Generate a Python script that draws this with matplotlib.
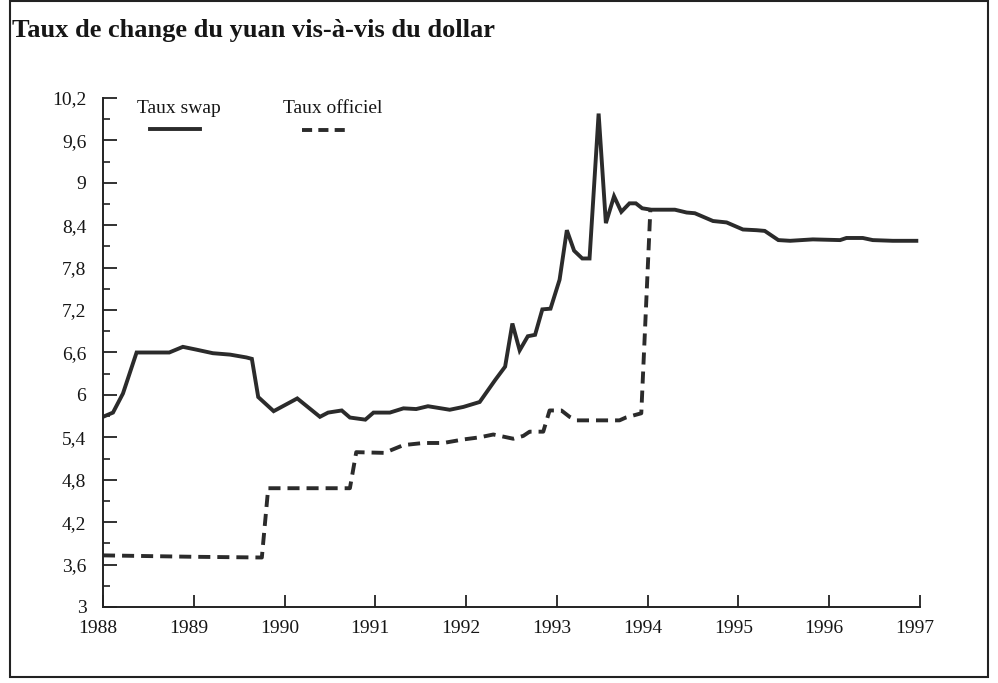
import matplotlib.pyplot as plt
from matplotlib.patches import Rectangle
from matplotlib.transforms import ScaledTranslation
import numpy as np

plt.rcParams['font.family'] = ['Liberation Serif', 'DejaVu Serif']

title = 'Taux de change du yuan vis-à-vis du dollar'

# swap rate (market)
swap_t = [1988.00, 1988.11, 1988.22, 1988.37, 1988.73, 1988.88, 1989.03, 1989.21,
          1989.40, 1989.58, 1989.64, 1989.71, 1989.88, 1990.14, 1990.39, 1990.48,
          1990.63, 1990.72, 1990.89, 1990.98, 1991.16, 1991.31, 1991.45, 1991.58,
          1991.82, 1991.97, 1992.15, 1992.32, 1992.43, 1992.51, 1992.59, 1992.68,
          1992.76, 1992.84, 1992.93, 1993.03, 1993.11, 1993.19, 1993.28, 1993.36,
          1993.46, 1993.54, 1993.63, 1993.71, 1993.80, 1993.87, 1993.94, 1994.04,
          1994.30, 1994.43, 1994.52, 1994.72, 1994.87, 1995.05, 1995.20, 1995.29,
          1995.44, 1995.57, 1995.82, 1996.12, 1996.19, 1996.37, 1996.48, 1996.70,
          1996.96]
swap_v = [5.69, 5.75, 6.02, 6.60, 6.60, 6.68, 6.64, 6.59,
          6.57, 6.53, 6.51, 5.97, 5.77, 5.95, 5.69, 5.75,
          5.78, 5.68, 5.65, 5.75, 5.75, 5.81, 5.80, 5.84,
          5.79, 5.83, 5.90, 6.21, 6.40, 7.01, 6.63, 6.83,
          6.85, 7.21, 7.22, 7.63, 8.33, 8.04, 7.93, 7.93,
          9.98, 8.43, 8.81, 8.59, 8.71, 8.71, 8.64, 8.62,
          8.62, 8.58, 8.57, 8.46, 8.44, 8.34, 8.33, 8.32,
          8.19, 8.18, 8.20, 8.19, 8.22, 8.22, 8.19, 8.18,
          8.18]

# official rate
off_t = [1988.00, 1989.00, 1989.75, 1989.82, 1990.72, 1990.79, 1991.10, 1991.31,
         1991.53, 1991.75, 1991.97, 1992.15, 1992.30, 1992.52, 1992.63, 1992.70,
         1992.85, 1992.92, 1993.05, 1993.14, 1993.22, 1993.69, 1993.76, 1993.93,
         1994.03]
off_v = [3.73, 3.71, 3.70, 4.68, 4.68, 5.19, 5.18, 5.29,
         5.32, 5.32, 5.37, 5.40, 5.44, 5.38, 5.42, 5.48,
         5.48, 5.78, 5.78, 5.69, 5.64, 5.64, 5.68, 5.74,
         8.62]

years = list(range(1988, 1998))
y_ticks = [3, 3.6, 4.2, 4.8, 5.4, 6, 6.6, 7.2, 7.8, 8.4, 9, 9.6, 10.2]
y_labels = ['3', '3,6', '4,2', '4,8', '5,4', '6', '6,6', '7,2', '7,8', '8,4', '9', '9,6', '10,2']

ink = '#2b2b2b'
txt = '#161616'

fig = plt.figure(figsize=(9.98, 6.83), dpi=100)
ax = fig.add_axes([0.1032, 0.1113, 0.8186, 0.7452])

ax.plot(swap_t, swap_v, color=ink, lw=2.8, solid_joinstyle='miter')
ax.plot(off_t, off_v, color=ink, lw=2.8, dashes=(3.1, 1.8))

ax.set_xlim(1988, 1997)
ax.set_ylim(3, 10.2)
ax.set_xticks(years)
ax.set_xticklabels([str(y) for y in years])
ax.set_yticks(y_ticks)
ax.set_yticklabels(y_labels)
ax.set_yticks(np.array(y_ticks[:-1]) + 0.3, minor=True)

for s in ['top', 'right']:
    ax.spines[s].set_visible(False)
for s in ['left', 'bottom']:
    ax.spines[s].set_linewidth(1.4)
    ax.spines[s].set_color('#222222')

ax.tick_params(axis='y', which='major', direction='in', length=10, width=1.3,
               pad=12, labelsize=14, labelcolor=txt, color='#222222')
ax.tick_params(axis='y', which='minor', direction='in', length=5, width=1.2,
               color='#222222')
ax.tick_params(axis='x', which='major', direction='in', length=9, width=1.3,
               pad=9.5, labelsize=14, labelcolor=txt, color='#222222')

# the scan's year labels sit a little left of their ticks
shift = ScaledTranslation(-0.05, 0, fig.dpi_scale_trans)
for lab in ax.get_xticklabels():
    lab.set_transform(lab.get_transform() + shift)

# legend, label above its line sample
ax.text(0.0416, 0.9705, 'Taux swap', transform=ax.transAxes, fontsize=14,
        va='baseline', color=txt)
ax.plot([0.0575, 0.1187], [0.939, 0.939], transform=ax.transAxes,
        color=ink, lw=2.8, clip_on=False)
ax.text(0.2203, 0.9705, 'Taux officiel', transform=ax.transAxes, fontsize=14,
        va='baseline', color=txt)
ax.plot([0.2436, 0.3023], [0.937, 0.937], transform=ax.transAxes,
        color=ink, lw=2.8, dashes=(2.6, 1.6), clip_on=False)

fig.text(0.012, 1 - 37.5 / 683, title, fontsize=19, fontweight='bold',
         va='baseline', ha='left', color=txt)

fig.add_artist(Rectangle((0.010, 0.009), 0.980, 0.989, transform=fig.transFigure,
                         fill=False, lw=1.5, ec='#222222'))

fig.savefig('out.png', dpi=100)
